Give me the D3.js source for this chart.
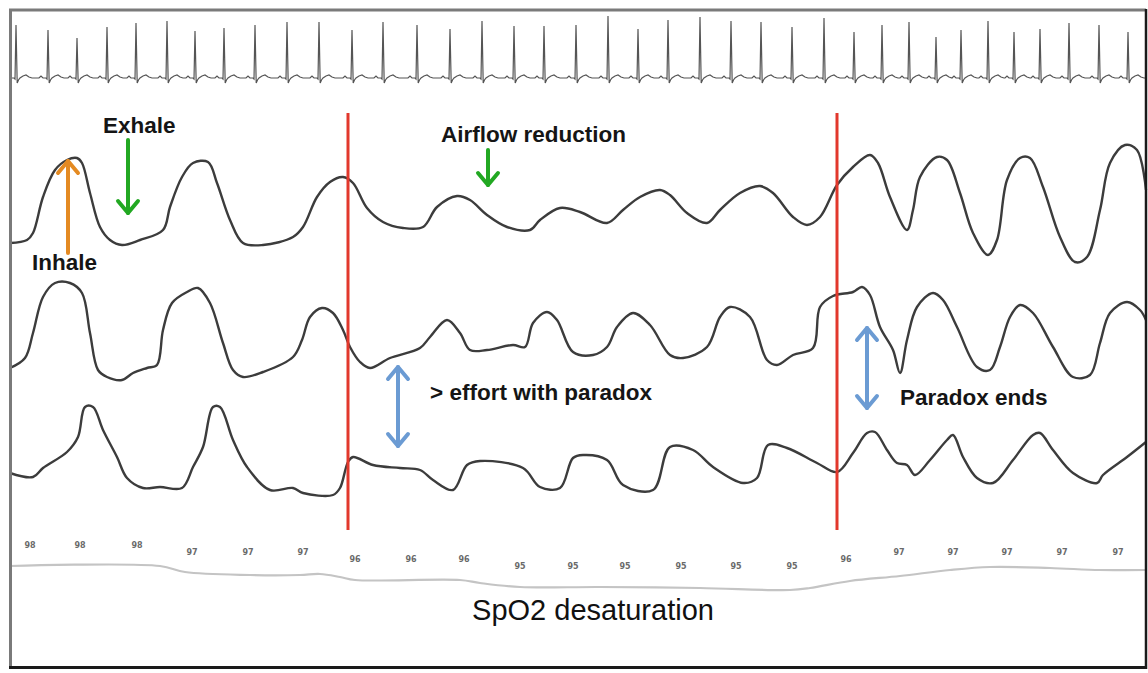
<!DOCTYPE html>
<html>
<head>
<meta charset="utf-8">
<script src="https://cdn.jsdelivr.net/npm/d3@7"></script>
<style>
  html, body { margin: 0; padding: 0; background: #fff; }
  svg { display: block; }
</style>
</head>
<body>
<div id="chart"></div>
<script>
// time axis: sample units across the strip
var beatTimes = [6, 38, 67, 97, 126, 157, 185, 214, 245, 277, 309, 342, 373, 407, 440, 472, 504, 534, 566, 598,
  628, 658, 690, 721, 751, 782, 814, 844, 872, 899, 926, 951, 978, 1004, 1030, 1059, 1089, 1118];
var beatAmps = [53, 48, 40, 51, 55, 57, 47, 50, 53, 56, 56, 48, 56, 53, 49, 57, 52, 52, 53, 62,
  49, 58, 61, 57, 56, 51, 60, 46, 53, 56, 41, 48, 57, 46, 49, 55, 53, 46];

// airflow channel [t, amplitude]
var airflow = [[0,27],[17,30],[23,37],[33,73],[45,100],[57,110],[67,112],[72,107],[80,77],[90,43],[100,30],[112,25],
  [130,30],[153,40],[160,63],[172,93],[183,107],[198,108],[207,87],[220,50],[233,27],[253,25],[283,33],[293,43],
  [307,73],[320,88],[333,93],[343,87],[357,62],[373,48],[393,42],[413,43],[427,63],[447,74],[460,70],[477,55],
  [497,43],[520,40],[530,50],[550,62],[570,58],[597,47],[613,60],[630,73],[650,80],[660,75],[677,57],[697,47],
  [710,60],[730,77],[750,84],[763,77],[783,53],[797,45],[810,53],[827,85],[843,103],[860,115],[868,107],[880,73],
  [897,40],[903,60],[910,93],[927,113],[937,110],[950,77],[963,37],[978,15],[987,30],[997,90],[1010,112],[1020,112],
  [1033,83],[1050,33],[1065,8],[1077,13],[1090,60],[1100,107],[1115,125],[1127,120],[1136,80]];

// thoracic effort channel
var thorax = [[0,17],[15,27],[23,52],[33,88],[45,102],[60,102],[72,92],[80,52],[88,15],[97,8],[112,5],[123,12],
  [137,17],[147,20],[153,55],[162,82],[177,93],[188,97],[200,82],[213,42],[223,15],[233,8],[253,13],[283,28],
  [292,45],[300,68],[312,77],[323,72],[333,55],[340,38],[350,23],[360,17],[380,27],[410,37],[420,48],[437,65],
  [450,52],[460,35],[477,35],[503,40],[515,38],[523,62],[537,73],[547,65],[563,33],[583,30],[597,38],[607,58],
  [623,72],[640,60],[660,30],[673,27],[697,38],[710,68],[720,78],[740,68],[757,25],[767,20],[783,30],[803,37],
  [810,78],[823,89],[843,93],[852,98],[860,90],[870,58],[883,35],[890,12],[897,45],[907,78],[923,92],[933,85],
  [947,58],[967,18],[980,15],[990,38],[1000,68],[1010,80],[1023,72],[1043,38],[1063,8],[1080,10],[1090,42],
  [1100,72],[1117,83],[1130,75],[1136,65]];

// abdominal effort channel
var abdomen = [[0,27],[23,23],[33,32],[57,48],[68,63],[75,93],[83,93],[93,70],[107,43],[117,22],[133,12],[150,13],
  [172,12],[183,33],[193,53],[203,93],[210,93],[223,60],[237,33],[260,10],[283,12],[293,7],[323,5],[330,12],
  [338,38],[343,43],[363,35],[390,32],[410,30],[423,20],[443,10],[457,35],[470,39],[513,32],[530,13],[550,12],
  [563,42],[573,45],[597,40],[613,15],[643,10],[660,53],[683,50],[703,33],[733,17],[747,22],[758,55],[777,52],
  [807,37],[827,28],[843,47],[857,67],[865,68],[877,50],[887,37],[897,35],[905,25],[920,40],[937,60],[943,65],
  [953,43],[967,22],[983,17],[1003,40],[1023,65],[1030,67],[1043,50],[1063,27],[1087,17],[1093,25],[1117,43],[1136,58]];

// SpO2 trend curve and readings
var spo2Curve = [[0,34],[150,34],[175,28],[240,25],[290,25],[310,26],[330,23],[345,20],[450,20],[470,17],[510,13],
  [590,13],[690,12],[780,10],[800,12],[840,19],[890,24],[940,30],[980,33],[1040,32],[1090,30],[1136,30]];
var spo2Times = [20, 70, 127, 182, 238, 293, 345, 401, 454, 510, 563, 615, 671, 726, 782, 836, 889, 943, 997, 1052, 1108];
var spo2Values = [98, 98, 98, 97, 97, 97, 96, 96, 96, 95, 95, 95, 95, 95, 95, 96, 97, 97, 97, 97, 97];

var eventTimes = [338, 827];

var W = 1148, H = 673;
var svg = d3.select("#chart").append("svg").attr("width", W).attr("height", H);

var x = d3.scaleLinear().domain([0, 1136]).range([10, 1146]);
var yEcg = d3.scaleLinear().domain([0, 60]).range([78, 18]);
var yFlow = d3.scaleLinear().domain([0, 130]).range([270, 140]);
var yThor = d3.scaleLinear().domain([0, 110]).range([385, 275]);
var yAbd = d3.scaleLinear().domain([0, 100]).range([500, 400]);
var ySpoLine = d3.scaleLinear().domain([0, 40]).range([600, 560]);
var ySpoLab = d3.scaleLinear().domain([95, 98]).range([569, 548]);

// ECG: beat shape around each R peak
var ecgPts = [[0, 0]];
beatTimes.forEach(function(t, i) {
  var a = beatAmps[i];
  [[-9,0],[-7,2],[-5,0],[-2,0],[-1,-1],[0,a],[1.2,-5],[2.5,-2],[4,0],[7,2],[10,3],[13,1],[16,0]].forEach(function(p) {
    var tt = t + p[0];
    if (tt >= 0 && tt <= 1136) ecgPts.push([tt, p[1]]);
  });
});
ecgPts.push([1136, 0]);

svg.append("path")
  .attr("d", d3.line().x(d => x(d[0])).y(d => yEcg(d[1]))(ecgPts))
  .attr("fill", "none").attr("stroke", "#555").attr("stroke-width", 1.2);

function trace(data, y, color, w) {
  svg.append("path")
    .attr("d", d3.line().x(d => x(d[0])).y(d => y(d[1])).curve(d3.curveCatmullRom.alpha(0.5))(data))
    .attr("fill", "none").attr("stroke", color).attr("stroke-width", w)
    .attr("stroke-linejoin", "round");
}
trace(airflow, yFlow, "#3c3c3c", 2.4);
trace(thorax, yThor, "#3c3c3c", 2.4);
trace(abdomen, yAbd, "#3c3c3c", 2.4);
trace(spo2Curve, ySpoLine, "#c4c4c4", 2.2);

// SpO2 readings
svg.selectAll(".spo").data(spo2Values).enter().append("text")
  .attr("x", (d, i) => x(spo2Times[i]))
  .attr("y", d => ySpoLab(d))
  .attr("text-anchor", "middle")
  .attr("font-family", "DejaVu Sans")
  .attr("font-size", 8).attr("font-weight", "bold")
  .attr("fill", "#6a6a6a")
  .text(d => d);

// event boundaries
svg.selectAll(".ev").data(eventTimes).enter().append("line")
  .attr("x1", d => x(d)).attr("x2", d => x(d))
  .attr("y1", 113).attr("y2", 530)
  .attr("stroke", "#e2382c").attr("stroke-width", 3);

// annotation arrows
var arrows = [
  {t: 58, y1: 253, y2: 161, color: "#e48a22", both: false},
  {t: 118, y1: 140, y2: 213, color: "#22a822", both: false},
  {t: 478, y1: 150, y2: 185, color: "#22a822", both: false},
  {t: 388, y1: 446, y2: 367, color: "#6b9bd3", both: true},
  {t: 857, y1: 408, y2: 328, color: "#6b9bd3", both: true}
];
arrows.forEach(function(a) {
  var ax = x(a.t), dir = a.y2 < a.y1 ? 1 : -1;
  var g = svg.append("g").attr("stroke", a.color).attr("stroke-width", 4)
    .attr("fill", "none").attr("stroke-linecap", "round").attr("stroke-linejoin", "round");
  g.append("line").attr("x1", ax).attr("x2", ax).attr("y1", a.y1).attr("y2", a.y2);
  g.append("polyline").attr("points", [[ax - 10, a.y2 + dir * 12], [ax, a.y2], [ax + 10, a.y2 + dir * 12]].join(" "));
  if (a.both)
    g.append("polyline").attr("points", [[ax - 10, a.y1 - dir * 12], [ax, a.y1], [ax + 10, a.y1 - dir * 12]].join(" "));
});

// labels
var labels = [
  {t: 93, y: 133, text: "Exhale"},
  {t: 22, y: 270, text: "Inhale"},
  {t: 431, y: 142, text: "Airflow reduction"},
  {t: 420, y: 400, text: "> effort with paradox"},
  {t: 890, y: 405, text: "Paradox ends"}
];
svg.selectAll(".lab").data(labels).enter().append("text")
  .attr("x", d => x(d.t)).attr("y", d => d.y)
  .attr("font-family", "Liberation Sans, Arial, sans-serif")
  .attr("font-size", 22.5).attr("font-weight", "bold")
  .attr("fill", "#151515")
  .text(d => d.text);

svg.append("text")
  .attr("x", 593).attr("y", 620)
  .attr("text-anchor", "middle")
  .attr("font-family", "Liberation Sans, Arial, sans-serif")
  .attr("font-size", 29)
  .attr("fill", "#111")
  .text("SpO2 desaturation");

// frame
svg.append("line").attr("x1", 10.5).attr("x2", 10.5).attr("y1", 9).attr("y2", 668).attr("stroke", "#7a7a7a").attr("stroke-width", 3);
svg.append("line").attr("x1", 9).attr("x2", 1146).attr("y1", 10).attr("y2", 10).attr("stroke", "#7a7a7a").attr("stroke-width", 3);
svg.append("line").attr("x1", 1146).attr("x2", 1146).attr("y1", 9).attr("y2", 669).attr("stroke", "#1a1a1a").attr("stroke-width", 2.5);
svg.append("line").attr("x1", 9).attr("x2", 1147).attr("y1", 667.5).attr("y2", 667.5).attr("stroke", "#1a1a1a").attr("stroke-width", 3);
</script>
</body>
</html>
